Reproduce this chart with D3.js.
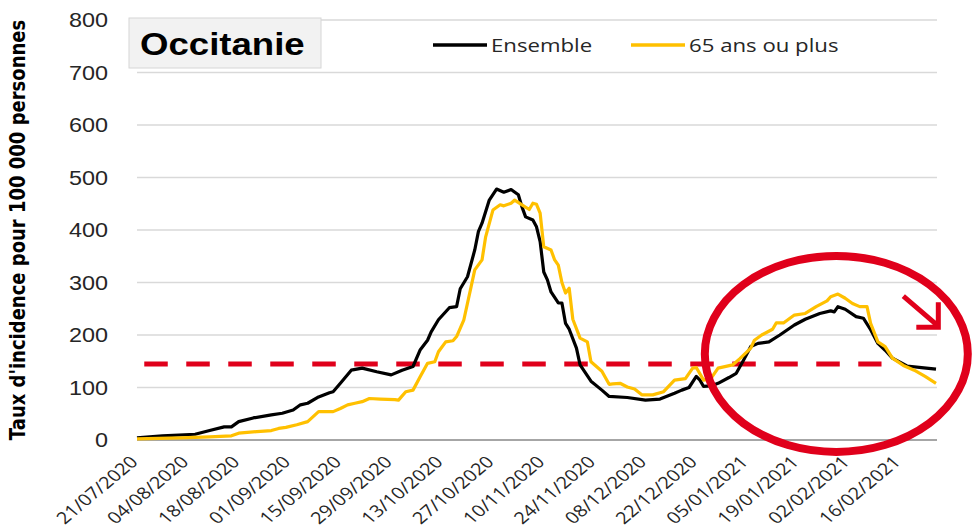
<!DOCTYPE html>
<html lang="fr">
<head>
<meta charset="UTF-8"/>
<title>Occitanie - taux d'incidence</title>
<script src="https://d3js.org/d3.v7.min.js"></script>
<style>
  body { margin: 0; background: #fff; }
</style>
</head>
<body>
<script>
    var w = 975;
    var h = 531;

    // Ensemble (noir)
    var datesEnsemble = ["2020-07-21","2020-07-28","2020-08-06","2020-08-10","2020-08-14","2020-08-16","2020-08-18","2020-08-22","2020-08-27","2020-08-30",
        "2020-09-02","2020-09-04","2020-09-06","2020-09-09","2020-09-12","2020-09-13","2020-09-15","2020-09-18","2020-09-21","2020-09-25",
        "2020-09-29","2020-10-02","2020-10-05","2020-10-07","2020-10-09","2020-10-10","2020-10-12","2020-10-15","2020-10-17","2020-10-18",
        "2020-10-20","2020-10-22","2020-10-23","2020-10-24","2020-10-26","2020-10-28","2020-10-30","2020-11-01","2020-11-03","2020-11-04",
        "2020-11-05","2020-11-07","2020-11-08","2020-11-09","2020-11-10","2020-11-11","2020-11-12","2020-11-14","2020-11-15","2020-11-16",
        "2020-11-17","2020-11-19","2020-11-20","2020-11-23","2020-11-26","2020-11-28","2020-12-03","2020-12-08","2020-12-12","2020-12-16",
        "2020-12-18","2020-12-20","2020-12-22","2020-12-23","2020-12-24","2020-12-26","2020-12-28","2020-12-31","2021-01-02","2021-01-04",
        "2021-01-06","2021-01-08","2021-01-11","2021-01-14","2021-01-18","2021-01-21","2021-01-25","2021-01-28","2021-01-29","2021-01-30",
        "2021-02-01","2021-02-04","2021-02-06","2021-02-08","2021-02-10","2021-02-12","2021-02-14","2021-02-18","2021-02-22","2021-02-26"];
    var valeursEnsemble = [4,8,11,18,25,25,35,42,48,51,
        57,67,70,82,90,92,108,133,137,130,
        124,133,140,172,190,206,229,252,254,288,
        311,362,397,413,457,478,472,477,467,444,
        425,419,406,378,320,305,282,261,261,222,
        211,175,143,112,95,83,81,76,78,89,
        95,100,121,114,102,103,108,119,127,152,
        178,184,187,200,219,230,241,246,244,254,
        249,235,232,210,184,171,156,141,138,135];

    // 65 ans ou plus (jaune)
    var datesPlus65 = ["2020-07-21","2020-08-02","2020-08-10","2020-08-16","2020-08-18","2020-08-23","2020-08-27","2020-08-29","2020-08-31","2020-09-03",
        "2020-09-06","2020-09-09","2020-09-13","2020-09-15","2020-09-17","2020-09-19","2020-09-21","2020-09-23","2020-09-26","2020-09-30",
        "2020-10-01","2020-10-03","2020-10-05","2020-10-07","2020-10-09","2020-10-11","2020-10-12","2020-10-14","2020-10-16","2020-10-17",
        "2020-10-19","2020-10-21","2020-10-22","2020-10-24","2020-10-25","2020-10-27","2020-10-29","2020-10-30","2020-11-01","2020-11-02",
        "2020-11-04","2020-11-06","2020-11-07","2020-11-08","2020-11-09","2020-11-10","2020-11-12","2020-11-13","2020-11-14","2020-11-15",
        "2020-11-16","2020-11-17","2020-11-18","2020-11-20","2020-11-22","2020-11-23","2020-11-26","2020-11-28","2020-11-29","2020-12-01",
        "2020-12-03","2020-12-05","2020-12-07","2020-12-10","2020-12-13","2020-12-16","2020-12-18","2020-12-19","2020-12-21","2020-12-22",
        "2020-12-24","2020-12-26","2020-12-28","2021-01-01","2021-01-03","2021-01-06","2021-01-07","2021-01-09","2021-01-12","2021-01-13",
        "2021-01-15","2021-01-18","2021-01-21","2021-01-24","2021-01-27","2021-01-28","2021-01-30","2021-02-01","2021-02-03","2021-02-05",
        "2021-02-07","2021-02-08","2021-02-10","2021-02-12","2021-02-14","2021-02-17","2021-02-20","2021-02-23","2021-02-26"];
    var valeursPlus65 = [2,4,6,8,13,16,18,22,24,29,
        35,54,54,60,67,70,73,79,78,77,
        76,92,95,121,146,149,168,187,189,197,
        229,292,324,343,387,438,448,446,451,457,
        448,439,451,449,432,368,362,343,333,300,
        280,289,230,194,187,149,131,106,107,108,
        101,97,86,86,92,114,116,117,137,138,
        114,117,137,143,155,175,190,200,211,223,
        223,238,241,254,265,273,278,270,260,254,
        254,222,187,178,156,142,133,121,108];

    var ticksY = [0,100,200,300,400,500,600,700,800];
    var ticksX = ["2020-07-21","2020-08-04","2020-08-18","2020-09-01","2020-09-15","2020-09-29","2020-10-13","2020-10-27",
        "2020-11-10","2020-11-24","2020-12-08","2020-12-22","2021-01-05","2021-01-19","2021-02-02","2021-02-16"];

    var seuil = 145;
    var seuilDebut = "2020-07-23";
    var seuilFin = "2021-02-11";

    var parse = d3.timeParse("%Y-%m-%d");
    var fmt = d3.timeFormat("%d/%m/%Y");
    var stretch = 1.2;   // la capture d'origine est étirée horizontalement

    var xScale = d3.scaleTime()
        .domain([parse("2020-07-21"), parse("2021-02-26")])
        .range([137, 936]);

    var yScale = d3.scaleLinear()
        .domain([0, 800])
        .range([440, 20]);

    var svg = d3.select("body")
        .append("svg")
        .attr("width", w)
        .attr("height", h);

    // grille
    svg.selectAll("line.grid")
        .data(ticksY.slice(1))
        .enter()
        .append("line")
        .attr("class", "grid")
        .attr("x1", 137)
        .attr("x2", 937)
        .attr("y1", function(d) { return yScale(d); })
        .attr("y2", function(d) { return yScale(d); })
        .attr("stroke", "#d9d9d9")
        .attr("stroke-width", 1.5);

    svg.append("line")
        .attr("x1", 137).attr("x2", 937)
        .attr("y1", yScale(0)).attr("y2", yScale(0))
        .attr("stroke", "#a6a6a6")
        .attr("stroke-width", 2);

    // libellés axe Y
    svg.selectAll("text.ylab")
        .data(ticksY)
        .enter()
        .append("text")
        .attr("class", "ylab")
        .attr("transform", function(d) { return "translate(108," + (yScale(d) + 7) + ") scale(" + stretch + ",1)"; })
        .attr("text-anchor", "end")
        .attr("font-family", "Liberation Sans, Arial, sans-serif")
        .attr("font-size", 19.5)
        .attr("fill", "#262626")
        .text(function(d) { return d; });

    // libellés axe X
    svg.selectAll("text.xlab")
        .data(ticksX)
        .enter()
        .append("text")
        .attr("class", "xlab")
        .attr("transform", function(d) {
            return "translate(" + (xScale(parse(d)) + 2) + ",463) scale(" + stretch + ",1) rotate(-45)";
        })
        .attr("text-anchor", "end")
        .attr("font-family", "Open Sans, sans-serif")
        .attr("font-size", 16.5)
        .attr("fill", "#262626")
        .text(function(d) { return fmt(parse(d)); });

    // titre axe Y
    svg.append("text")
        .attr("transform", "translate(25," + yScale(400) + ") scale(" + stretch + ",1) rotate(-90)")
        .attr("text-anchor", "middle")
        .attr("font-family", "DejaVu Sans, sans-serif")
        .attr("font-weight", "bold")
        .attr("font-size", 18)
        .attr("fill", "#000")
        .text("Taux d'incidence pour 100 000 personnes");

    // seuil
    svg.append("line")
        .attr("x1", xScale(parse(seuilDebut)))
        .attr("x2", xScale(parse(seuilFin)))
        .attr("y1", yScale(seuil))
        .attr("y2", yScale(seuil))
        .attr("stroke", "#e0001b")
        .attr("stroke-width", 5)
        .attr("stroke-dasharray", "23.5,18.5");

    var line = d3.line()
        .x(function(d) { return xScale(d[0]); })
        .y(function(d) { return yScale(d[1]); });

    var ensemble = datesEnsemble.map(function(d, i) { return [parse(d), valeursEnsemble[i]]; });
    var plus65 = datesPlus65.map(function(d, i) { return [parse(d), valeursPlus65[i]]; });

    svg.append("path")
        .datum(ensemble)
        .attr("d", line)
        .attr("fill", "none")
        .attr("stroke", "#000")
        .attr("stroke-width", 3.2)
        .attr("stroke-linejoin", "round");

    svg.append("path")
        .datum(plus65)
        .attr("d", line)
        .attr("fill", "none")
        .attr("stroke", "#ffc000")
        .attr("stroke-width", 3.2)
        .attr("stroke-linejoin", "round");

    // encadré titre
    svg.append("rect")
        .attr("x", 129).attr("y", 18)
        .attr("width", 192).attr("height", 50)
        .attr("fill", "#f2f2f2")
        .attr("stroke", "#d6d6d6");

    svg.append("text")
        .attr("transform", "translate(140,55) scale(" + stretch + ",1)")
        .attr("font-family", "Liberation Sans, Arial, sans-serif")
        .attr("font-weight", "bold")
        .attr("font-size", 30.5)
        .attr("fill", "#000")
        .text("Occitanie");

    // légende
    var legende = [
        {nom: "Ensemble", couleur: "#000", x: 433},
        {nom: "65 ans ou plus", couleur: "#ffc000", x: 631}
    ];
    var lg = svg.selectAll("g.leg")
        .data(legende)
        .enter()
        .append("g")
        .attr("class", "leg");
    lg.append("line")
        .attr("x1", function(d) { return d.x; })
        .attr("x2", function(d) { return d.x + 54; })
        .attr("y1", 45).attr("y2", 45)
        .attr("stroke", function(d) { return d.couleur; })
        .attr("stroke-width", 3.5);
    lg.append("text")
        .attr("transform", function(d) { return "translate(" + (d.x + 58) + ",52) scale(" + stretch + ",1)"; })
        .attr("font-family", "Open Sans, sans-serif")
        .attr("font-size", 18.5)
        .attr("fill", "#262626")
        .text(function(d) { return d.nom; });

    // annotation : cercle et flèche
    svg.append("ellipse")
        .attr("cx", xScale(parse("2021-01-29")) + 2)
        .attr("cy", yScale(164))
        .attr("rx", 131.5)
        .attr("ry", 98)
        .attr("fill", "none")
        .attr("stroke", "#e0001b")
        .attr("stroke-width", 8);

    var fx = xScale(parse("2021-02-17"));
    var fy = yScale(274);
    svg.append("path")
        .attr("d", "M" + fx + "," + fy + " l35,30 M" + (fx + 35) + "," + (fy + 6) + " v25 h-22")
        .attr("fill", "none")
        .attr("stroke", "#e0001b")
        .attr("stroke-width", 5);
</script>
</body>
</html>
